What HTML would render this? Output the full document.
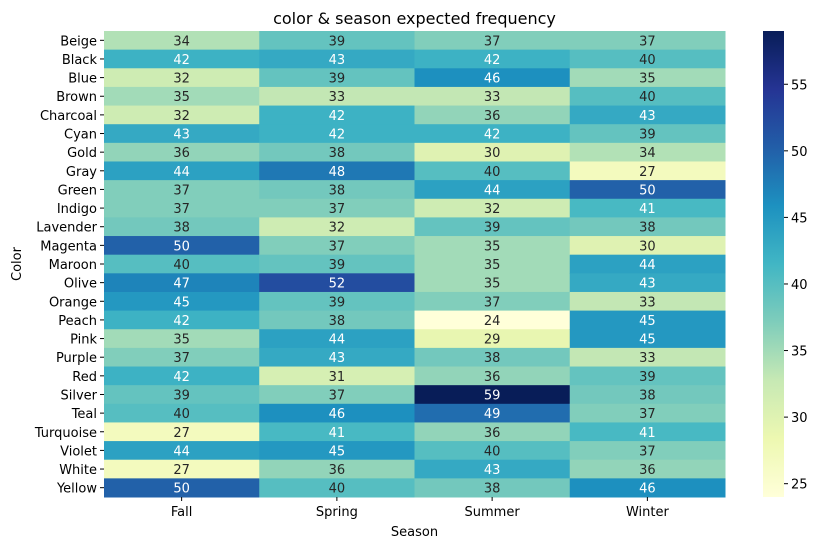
<!DOCTYPE html>
<html><head><meta charset="utf-8"><style>
body{margin:0;background:#fff;font-family:"Liberation Sans","DejaVu Sans",sans-serif;}
svg text{font-family:"DejaVu Sans","Liberation Sans",sans-serif;}
</style></head><body>
<svg id="chart" width="824" height="547" xmlns="http://www.w3.org/2000/svg">
<text x="414.5" y="24" font-size="16" text-anchor="middle" fill="#000">color &amp; season expected frequency</text>
<g id="cells"></g>
<g id="ylabels"></g>
<g id="xlabels"></g>
<text x="414.5" y="536" font-size="13" text-anchor="middle">Season</text>
<text x="21" y="264" font-size="13" text-anchor="middle" transform="rotate(-90 21 264)">Color</text>
<defs><linearGradient id="cbg" x1="0" y1="1" x2="0" y2="0"></linearGradient></defs>
<rect x="763" y="31" width="21" height="466" fill="url(#cbg)"/>
<g id="cbticks"></g>
</svg>
<script>
const colors=["Beige","Black","Blue","Brown","Charcoal","Cyan","Gold","Gray","Green","Indigo","Lavender","Magenta","Maroon","Olive","Orange","Peach","Pink","Purple","Red","Silver","Teal","Turquoise","Violet","White","Yellow"];
const seasons=["Fall","Spring","Summer","Winter"];
const fall=[34,42,32,35,32,43,36,44,37,37,38,50,40,47,45,42,35,37,42,39,40,27,44,27,50];
const spring=[39,43,39,33,42,42,38,48,38,37,32,37,39,52,39,38,44,43,31,37,46,41,45,36,40];
const summer=[37,42,46,33,36,42,30,40,44,32,39,35,35,35,37,24,29,38,36,59,49,36,40,43,38];
const winter=[37,40,35,40,43,39,34,27,50,41,38,30,44,43,33,45,45,33,39,38,37,41,37,36,46];
const cbTicks=[25,30,35,40,45,50,55];
const vmin=24,vmax=59;
const series=[fall,spring,summer,winter];
const L=104,R=725,T=31,B=497;
const cw=(R-L)/seasons.length, rh=(B-T)/colors.length;
const stops=["#ffffd9","#edf8b1","#c7e9b4","#7fcdbb","#41b6c4","#1d91c0","#225ea8","#253494","#081d58"].map(h=>[1,3,5].map(i=>parseInt(h.substr(i,2),16)));
function cmap(v){let t=(v-vmin)/(vmax-vmin);t=Math.max(0,Math.min(1,t))*(stops.length-1);let i=Math.min(Math.floor(t),stops.length-2),f=t-i;return stops[i].map((c,k)=>Math.round(c+(stops[i+1][k]-c)*f));}
function lum(c){const l=c.map(x=>{x/=255;return x<=0.03928?x/12.92:Math.pow((x+0.055)/1.055,2.4)});return 0.2126*l[0]+0.7152*l[1]+0.0722*l[2];}
const NS="http://www.w3.org/2000/svg";
function mk(tag,attrs,parent){const e=document.createElementNS(NS,tag);for(const k in attrs)e.setAttribute(k,attrs[k]);parent.appendChild(e);return e;}
const cells=document.getElementById('cells');
series.forEach((s,j)=>s.forEach((v,i)=>{
 const c=cmap(v);
 const r=mk('rect',{x:L+j*cw,y:T+i*rh,width:cw+0.5,height:rh+0.5,fill:`rgb(${c})`},cells);
 
 
 const t=mk('text',{x:L+(j+0.5)*cw,y:T+(i+0.5)*rh+5,'font-size':13,'text-anchor':'middle',fill:lum(c)>0.408?'#262626':'#fff'},cells);
 
 
 t.textContent=v;
}));
const yl=document.getElementById('ylabels');
colors.forEach((n,i)=>{const y=T+(i+0.5)*rh;
 const tk=mk('line',{x1:L-4,x2:L,y1:y,y2:y,stroke:'#000'},yl);
 
 
 const t=mk('text',{x:L-7,y:y+5,'font-size':13,'text-anchor':'end'},yl);
 
 
 t.textContent=n;});
const xl=document.getElementById('xlabels');
seasons.forEach((n,j)=>{const x=L+(j+0.5)*cw;
 const tk=mk('line',{x1:x,x2:x,y1:B,y2:B+4,stroke:'#000'},xl);
 
 
 const t=mk('text',{x:x,y:B+19,'font-size':13,'text-anchor':'middle'},xl);
 
 
 t.textContent=n;});
const g=document.getElementById('cbg');
stops.forEach((c,i)=>mk('stop',{offset:i/(stops.length-1),'stop-color':`rgb(${c})`},g));
const cb=document.getElementById('cbticks');
cbTicks.forEach(v=>{const y=B-(v-vmin)/(vmax-vmin)*(B-T);
 const tk=mk('line',{x1:784,x2:788,y1:y,y2:y,stroke:'#000'},cb);
 
 
 const t=mk('text',{x:791,y:y+5,'font-size':13},cb);
 
 
 t.textContent=v;});
</script>
</body></html>
